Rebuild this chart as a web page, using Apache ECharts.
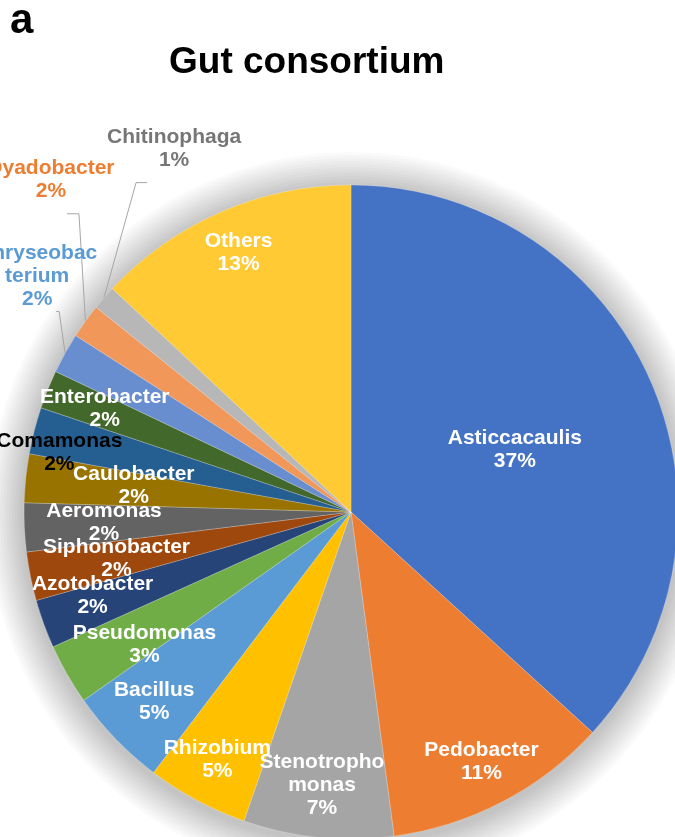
<!DOCTYPE html>
<html>
<head>
<meta charset="utf-8">
<script src="https://cdn.jsdelivr.net/npm/echarts@6/dist/echarts.min.js"></script>
<style>
  html, body { margin: 0; padding: 0; background: #ffffff; }
  #chart { width: 675px; height: 837px; }
</style>
</head>
<body>
<div id="chart"></div>
<script>
// ---- data ----
const categories = ['Asticcacaulis', 'Pedobacter', 'Stenotrophomonas', 'Rhizobium', 'Bacillus',
  'Pseudomonas', 'Azotobacter', 'Siphonobacter', 'Aeromonas', 'Caulobacter', 'Comamonas',
  'Enterobacter', 'Chryseobacterium', 'Dyadobacter', 'Chitinophaga', 'Others'];
const shares = [36.7, 11.1, 7.4, 5.0, 4.9, 3.0, 2.4, 2.4, 2.4, 2.4, 2.3, 1.9, 2.0, 1.7, 1.2, 13.0];
const labelTexts = ['Asticcacaulis', 'Pedobacter', 'Stenotropho\nmonas', 'Rhizobium', 'Bacillus',
  'Pseudomonas', 'Azotobacter', 'Siphonobacter', 'Aeromonas', 'Caulobacter', 'Comamonas',
  'Enterobacter', 'Chryseobac\nterium', 'Dyadobacter', 'Chitinophaga', 'Others'];
const titleText = 'Gut consortium';
const panelLetter = 'a';

// ---- styles ----
const colors = ['#4472C4', '#ED7D31', '#A5A5A5', '#FFC000', '#5B9BD5', '#70AD47', '#264478',
  '#9E480E', '#636363', '#997300', '#255E91', '#43682B', '#698ED0', '#F1975A', '#B7B7B7', '#FFCA33'];
const CX = 351, CY = 512, R = 327;
const HALO_STEPS = 12, HALO_STEP_PX = 3, HALO_ALPHA = 0.018;
const FONT = '"Liberation Sans", Arial, Helvetica, sans-serif';
// label placement: [radius fraction, angle tweak in degrees]
const labelPlace = {
  Asticcacaulis: [0.536, 3], Pedobacter: [0.861, 0], Stenotrophomonas: [0.839, 0.3],
  Rhizobium: [0.861, 0.2], Bacillus: [0.837, 0], Pseudomonas: [0.751, -3],
  Azotobacter: [0.831, 2], Siphonobacter: [0.731, 0.2], Aeromonas: [0.756, 0.3],
  Caulobacter: [0.669, 0.9], Comamonas: [0.91, -3], Enterobacter: [0.817, 0.8],
  Chryseobacterium: [1.2, 7.85], Dyadobacter: [1.369, 12.2], Chitinophaga: [1.236, 23.1],
  Others: [0.864, 0]
};
// leader-line elbow/end offsets relative to the label centre
const leaderShape = {
  Chryseobacterium: [[22, 35], [19, 35]],
  Dyadobacter: [[28, 34], [16, 34]],
  Chitinophaga: [[-38, 34], [-27, 34]]
};
const outsideColor = { Chryseobacterium: '#5B9BD5', Dyadobacter: '#ED7D31', Chitinophaga: '#767676' };
const darkLabel = { Comamonas: '#000000' };

const pieData = categories.map((name, i) => {
  const item = { name: name, value: shares[i], itemStyle: { color: colors[i] } };
  if (outsideColor[name]) {
    item.label = { position: 'outside', color: outsideColor[name] };
    item.labelLine = { show: true };
  } else if (darkLabel[name]) {
    item.label = { color: darkLabel[name] };
  }
  return item;
});

const chart = echarts.init(document.getElementById('chart'), null, { renderer: 'canvas' });

function toXY(k, theta) {
  const t = theta * Math.PI / 180;
  return [CX + k * R * Math.sin(t), CY - k * R * Math.cos(t)];
}
function angleOf(x, y) {
  let a = Math.atan2(x - CX, -(y - CY)) * 180 / Math.PI;
  if (a < 0) a += 360;
  return a;
}

// soft halo: stacked translucent discs behind the pie
const haloSeries = [];
for (let i = HALO_STEPS; i >= 1; i--) {
  haloSeries.push({
    type: 'pie', z: 1, silent: true,
    center: [CX, CY + 3], radius: R + i * HALO_STEP_PX,
    label: { show: false }, labelLine: { show: false },
    itemStyle: { color: 'rgba(0,0,0,' + HALO_ALPHA + ')' },
    emphasis: { disabled: true },
    data: [{ name: 'halo', value: 1 }]
  });
}

chart.setOption({
  backgroundColor: '#ffffff',
  animation: false,
  title: [
    { text: panelLetter, left: 10, top: 0, padding: 0,
      textStyle: { fontSize: 42, fontWeight: 'bold', color: '#000', fontFamily: FONT } },
    { text: titleText, left: 169, top: 44, padding: 0,
      textStyle: { fontSize: 37, fontWeight: 'bold', color: '#000', fontFamily: FONT } }
  ],
  series: haloSeries.concat([
    {
      type: 'pie', z: 2,
      center: [CX, CY], radius: R,
      startAngle: 90, clockwise: true,
      avoidLabelOverlap: false,
      itemStyle: { borderColor: 'rgba(255,255,255,0.45)', borderWidth: 0.5 },
      label: {
        show: true, position: 'inside',
        color: '#ffffff', fontSize: 21, fontWeight: 'bold', fontFamily: FONT,
        lineHeight: 23,
        formatter: function (p) {
          return labelTexts[p.dataIndex] + '\n' + Math.round(p.percent) + '%';
        }
      },
      labelLine: { show: false, length: 20, length2: 10, lineStyle: { color: '#A6A6A6', width: 1 } },
      labelLayout: function (p) {
        const name = categories[p.dataIndex];
        const place = labelPlace[name];
        if (!place) return {};
        let baseAngle;
        const isOut = !!outsideColor[name];
        if (isOut && p.labelLinePoints) {
          baseAngle = angleOf(p.labelLinePoints[0][0], p.labelLinePoints[0][1]);
        } else {
          const r = p.labelRect;
          baseAngle = angleOf(r.x + r.width / 2, r.y + r.height / 2);
        }
        const xy = toXY(place[0], baseAngle + place[1]);
        const out = { x: xy[0], y: xy[1], align: 'center', verticalAlign: 'middle' };
        if (isOut && p.labelLinePoints && leaderShape[name]) {
          const s = leaderShape[name];
          out.labelLinePoints = [
            p.labelLinePoints[0],
            [xy[0] + s[0][0], xy[1] + s[0][1]],
            [xy[0] + s[1][0], xy[1] + s[1][1]]
          ];
        }
        return out;
      },
      data: pieData
    }
  ])
});
</script>
</body>
</html>
